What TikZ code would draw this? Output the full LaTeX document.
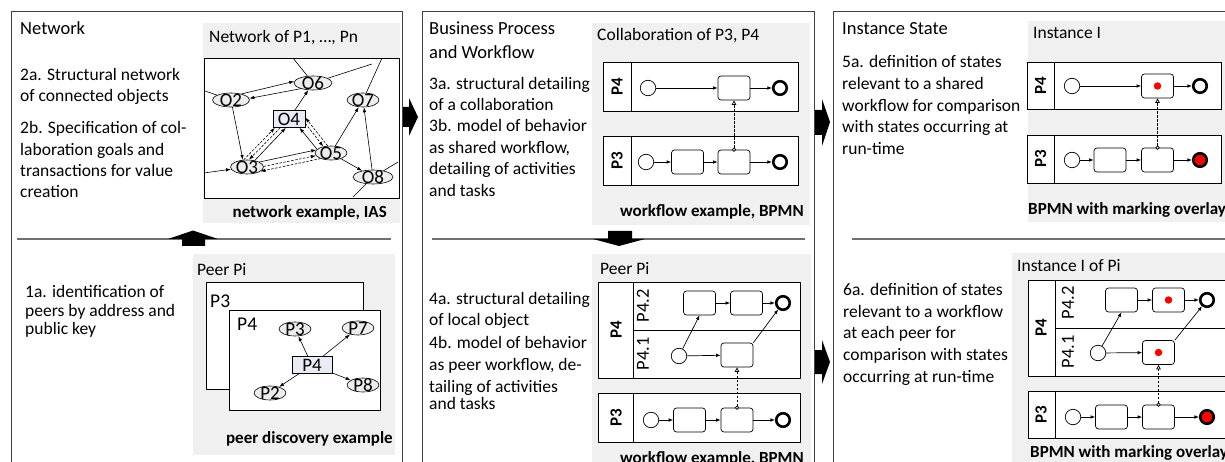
\documentclass[tikz,border=0pt]{standalone}
\usepackage{fontspec}
\setmainfont{Carlito}
\usetikzlibrary{arrows.meta,shapes.geometric}
\definecolor{gbg}{HTML}{F0F0F0}
\definecolor{objfill}{HTML}{EDEDED}
\definecolor{rectfill}{HTML}{E9ECF4}
\definecolor{edgec}{HTML}{404040}
\definecolor{sepc}{HTML}{707070}
\definecolor{markred}{HTML}{FF0000}
\begin{document}
\begin{tikzpicture}[x=1pt,y=-1pt,
  panel/.style={draw=edgec,line width=0.9pt},
  sepline/.style={draw=sepc,line width=1.3pt},
  gbox/.style={fill=gbg},
  body/.style={anchor=base west,inner sep=0,font=\fontsize{17.5}{21}\selectfont},
  ptitle/.style={anchor=base west,inner sep=0,font=\fontsize{18.5}{22}\selectfont},
  gcapr/.style={anchor=base east,inner sep=0,font=\bfseries\fontsize{17}{20}\selectfont},
  gcapl/.style={anchor=base west,inner sep=0,font=\bfseries\fontsize{17}{20}\selectfont},
  big/.style={anchor=base west,inner sep=0,font=\fontsize{19.5}{20}\selectfont},
  obj/.style={ellipse,draw,fill=objfill,line width=0.6pt,minimum width=32,minimum height=14,inner sep=0,
     label={[inner sep=0,font=\fontsize{19}{19}\selectfont]center:#1}},
  objrect/.style={rectangle,draw,fill=rectfill,line width=0.6pt,minimum width=#1,minimum height=17,inner sep=0,
     font=\fontsize{19}{19}\selectfont},
  netarr/.style={-{Latex[length=5pt,width=3.5pt]},line width=0.6pt},
  netline/.style={line width=0.6pt},
  dsh/.style={dash pattern=on 2.5pt off 1.5pt},
  whitebox/.style={draw,fill=white,line width=0.8pt},
  pool/.style={draw,line width=0.9pt},
  plabel/.style={rotate=90,inner sep=0,font=\bfseries\fontsize{17}{17}\selectfont},
  llabel/.style={rotate=90,inner sep=0,font=\fontsize{18.5}{18.5}\selectfont},
  task/.style={draw,rounded corners=3pt,fill=white,line width=0.7pt,minimum width=32,minimum height=24,inner sep=0},
  marked/.style={label={[circle,fill=markred,minimum size=7.5,inner sep=0]center:}},
  startev/.style={circle,draw,fill=white,minimum size=15.5,inner sep=0,line width=0.7pt},
  endev/.style={circle,draw,fill=white,minimum size=13.5,inner sep=0,line width=2.6pt},
  endred/.style={endev,fill=markred},
  seq/.style={-{Latex[length=4.5pt,width=3.5pt]},line width=0.7pt},
  msg/.style={line width=0.7pt,dash pattern=on 2.5pt off 1.5pt,
     {Circle[open,length=4pt,width=4pt,fill=white]}-{Triangle[open,length=4.5pt,width=4.5pt,fill=white]},shorten <=-2pt},
  blockarrow/.style={fill=black}
]
\clip (0,0) rectangle (1225,462);
\fill[white] (0,0) rectangle (1225,462);

% ---------------- panels ----------------
\draw[panel] (11,11) rectangle (402,480);
\draw[panel] (422,11) rectangle (814,480);
\draw[panel] (833,11) rectangle (1240,480);
\draw[sepline] (17,239) -- (391,239);
\draw[sepline] (432,239) -- (805,239);
\draw[sepline] (852,239) -- (1235,239);

% block arrows
\fill[blockarrow] (182,246) -- (182,239) -- (168,239) -- (193,230.5) -- (218,239) -- (205,239) -- (205,246) -- cycle;
\fill[blockarrow] (608,231) -- (632,231) -- (632,239) -- (645,239) -- (619,246) -- (593,239) -- (608,239) -- cycle;
\fill[blockarrow] (403,107) -- (409,107) -- (409,98) -- (418,117) -- (409,136) -- (409,127) -- (403,127) -- cycle;
\fill[blockarrow] (815,110) -- (822,110) -- (822,99) -- (830,122) -- (822,146) -- (822,135) -- (815,135) -- cycle;
\fill[blockarrow] (815,350) -- (822,350) -- (822,340) -- (830,362) -- (822,384) -- (822,374) -- (815,374) -- cycle;

% ---------------- panel 1 text ----------------
\node[ptitle] (n1t) at (20,35) {Network};
\node[body] (n1a) at (20,81) {2a. Structural network};
\node[body] (n1b) at (20,102) {of connected objects};
\node[body] (n1c) at (20,134) {2b. Specification of col-};
\node[body] (n1d) at (20,155.5) {laboration goals and};
\node[body] (n1e) at (20,177) {transactions for value};
\node[body] (n1f) at (20,198) {creation};
\node[body] (n1g) at (25,297) {1a. identification of};
\node[body] (n1h) at (25,316) {peers by address and};
\node[body] (n1i) at (25,334) {public key};

% network example
\fill[gbox] (203,23) rectangle (400,223);
\node[body] (g1t) at (209,43) {Network of P1, …, Pn};
\draw[whitebox] (204,58) rectangle (399,198);
\node[gcapr] (g1c) at (387,218) {network example, IAS};
\begin{scope}
\clip (204,58) rectangle (399,198);
\node[obj=O6,minimum width=38] (o6) at (313,83) {};
\node[obj=O2,minimum width=37] (o2) at (231,100) {};
\node[obj=O7] (o7) at (363,100) {};
\node[objrect=32] (o4) at (289,119) {O4};
\node[obj=O5] (o5) at (331,153) {};
\node[obj=O3,minimum width=33] (o3) at (247,167) {};
\node[obj=O8,minimum width=40] (o8) at (373,177) {};
\coordinate (x1) at (293,58);
\coordinate (x2) at (382,58);
\coordinate (x3) at (372,64);
\coordinate (x4) at (205,91);
\coordinate (x5) at (204,173);
\coordinate (x6) at (398,162);
\coordinate (x7) at (353,197);
\draw[netline] (x1) -- (o6);
\draw[netline] (x2) -- (o7);
\draw[netline] (o6) -- (x3);
\draw[netline] (o2) -- (x4);
\draw[netarr] (x5) -- (o3);
\draw[netline] (o8) -- (x6);
\draw[netline] (o8) -- (x7);
\draw[netarr] (o2.30) -- (o6.175);
\draw[netarr] (o6.205) -- (o2.5);
\draw[netarr] (o2) -- (o3.120);
\draw[netarr] (o4) -- (o6);
\draw[netarr,dsh] (o3.115) -- (o4.212);
\draw[netarr,dsh] (o4.225) -- (o3.75);
\draw[netarr] (o3.40) -- (o4.250);
\draw[netarr] (o3.22) -- (o5.168);
\draw[netarr,dsh] (o3.2) -- (o5.190);
\draw[netarr,dsh] (o5.208) -- (o3.-18);
\draw[netarr,dsh] (o5.115) -- (o4.5);
\draw[netarr,dsh] (o4.-15) -- (o5.140);
\draw[netarr] (o5.165) -- (o4.-40);
\draw[netarr] (o5) -- (o7);
\draw[netarr] (o5) -- (o8);
\draw[netarr] (o8) -- (o7);
\end{scope}

% peer discovery
\fill[gbox] (193,254) rectangle (395,455);
\node[body] (g2t) at (197,275) {Peer Pi};
\draw[whitebox] (206,282) rectangle (363,389);
\node[big] (lp3) at (210,307) {P3};
\draw[whitebox] (229,310) rectangle (380,410);
\node[big] (lp4) at (237,330) {P4};
\node[obj=P3] (q3) at (295,329) {};
\node[obj=P7] (q7) at (358,328) {};
\node[obj=P2] (q2) at (270,393) {};
\node[obj=P8] (q8) at (363,385) {};
\node[objrect=40] (q4) at (312,365) {P4};
\draw[netarr] (q4) -- (q3);
\draw[netarr] (q4) -- (q7);
\draw[netarr] (q4) -- (q2);
\draw[netarr] (q4) -- (q8);
\node[gcapr] (g2c) at (393,443) {peer discovery example};

% ---------------- panel 2 text ----------------
\node[ptitle] (n2t) at (429,35) {Business Process};
\node[ptitle] (n2u) at (429,59) {and Workflow};
\node[body] (n2a) at (429,90) {3a. structural detailing};
\node[body] (n2b) at (429,111) {of a collaboration};
\node[body] (n2c) at (429,132) {3b. model of behavior};
\node[body] (n2d) at (429,153.5) {as shared workflow,};
\node[body] (n2e) at (429,175) {detailing of activities};
\node[body] (n2f) at (429,197) {and tasks};
\node[body] (n2g) at (429,304) {4a. structural detailing};
\node[body] (n2h) at (429,325) {of local object};
\node[body] (n2i) at (429,348) {4b. model of behavior};
\node[body] (n2j) at (429,370) {as peer workflow, de-};
\node[body] (n2k) at (429,392) {tailing of activities};
\node[body] (n2l) at (429,409) {and tasks};

% collaboration
\fill[gbox] (592,23) rectangle (810,225);
\node[body] (g3t) at (597,41) {Collaboration of P3, P4};
\draw[pool,fill=white] (603,62) rectangle (798,111);
\draw[pool] (631,62) -- (631,111);
\node[plabel] (c4l) at (617,86.5) {P4};
\draw[pool,fill=white] (603,136) rectangle (798,185);
\draw[pool] (631,136) -- (631,185);
\node[plabel] (c3l) at (617,160.5) {P3};
\node[startev] (c4s) at (648,88) {};
\node[task] (c4t) at (734,88) {};
\node[endev] (c4e) at (780,88) {};
\draw[seq] (c4s) -- (c4t);
\draw[seq] (c4t) -- (c4e);
\node[startev] (c3s) at (646,162) {};
\node[task] (c3t1) at (687.5,162) {};
\node[task] (c3t2) at (734,162) {};
\node[endev] (c3e) at (780,162) {};
\draw[seq] (c3s) -- (c3t1);
\draw[seq] (c3t1) -- (c3t2);
\draw[seq] (c3t2) -- (c3e);
\draw[msg] (c3t2.north) -- (c4t.south);
\node[gcapr] (g3c) at (804,217) {workflow example, BPMN};

% peer workflow
\fill[gbox] (592,254) rectangle (811,470);
\node[body] (g4t) at (600,274) {Peer Pi};
\draw[pool,fill=white] (598,282) rectangle (800,378);
\draw[pool] (633,282) -- (633,378);
\draw[pool] (633,330) -- (800,330);
\node[plabel] (p4l) at (616,330) {P4};
\node[llabel] (p42l) at (643,306) {P4.2};
\node[llabel] (p41l) at (643,354) {P4.1};
\draw[pool,fill=white] (598,393) rectangle (800,442);
\draw[pool] (633,393) -- (633,442);
\node[plabel] (p3l) at (616,417.5) {P3};
\node[task] (a2t1) at (699.5,303) {};
\node[task] (a2t2) at (746.5,303) {};
\node[endev] (a2e) at (783,303) {};
\node[startev] (a1s) at (679,356) {};
\node[task] (a1t) at (737,355) {};
\draw[seq] (a2t1) -- (a2t2);
\draw[seq] (a2t2) -- (a2e);
\draw[seq] (a1s) -- (a2t1.south);
\draw[seq] (a1s) -- (a1t);
\draw[seq] (a1t.north east) -- (a2e);
\node[startev] (b3s) at (651,420) {};
\node[task] (b3t1) at (689.5,420) {};
\node[task] (b3t2) at (737,420) {};
\node[endev] (b3e) at (783,420) {};
\draw[seq] (b3s) -- (b3t1);
\draw[seq] (b3t1) -- (b3t2);
\draw[seq] (b3t2) -- (b3e);
\draw[msg] (b3t2.north) -- (a1t.south);
\node[gcapr] (g4c) at (804,463) {workflow example, BPMN};

% ---------------- panel 3 text ----------------
\node[ptitle] (n3t) at (842,35) {Instance State};
\node[body] (n3a) at (842,68) {5a. definition of states};
\node[body] (n3b) at (842,90) {relevant to a shared};
\node[body] (n3c) at (842,112) {workflow for comparison};
\node[body] (n3d) at (842,133) {with states occurring at};
\node[body] (n3e) at (842,155) {run-time};
\node[body] (n3f) at (843,295) {6a. definition of states};
\node[body] (n3g) at (843,317) {relevant to a workflow};
\node[body] (n3h) at (843,338) {at each peer for};
\node[body] (n3i) at (843,360) {comparison with states};
\node[body] (n3j) at (843,382) {occurring at run-time};

% instance I
\fill[gbox] (1028,21) rectangle (1240,222);
\node[body] (g5t) at (1033,39) {Instance I};
\draw[pool,fill=white] (1027,62) rectangle (1221,109);
\draw[pool] (1054,62) -- (1054,109);
\node[plabel] (i4l) at (1040.5,85.5) {P4};
\draw[pool,fill=white] (1027,135) rectangle (1221,183);
\draw[pool] (1054,135) -- (1054,183);
\node[plabel] (i3l) at (1040.5,159) {P3};
\node[startev] (i4s) at (1072,86) {};
\node[task,marked] (i4t) at (1157.5,86) {};
\node[endev] (i4e) at (1200,86) {};
\draw[seq] (i4s) -- (i4t);
\draw[seq] (i4t) -- (i4e);
\node[startev] (i3s) at (1072,160) {};
\node[task] (i3t1) at (1110,160) {};
\node[task] (i3t2) at (1157.5,160) {};
\node[endred] (i3e) at (1200,160) {};
\draw[seq] (i3s) -- (i3t1);
\draw[seq] (i3t1) -- (i3t2);
\draw[seq] (i3t2) -- (i3e);
\draw[msg] (i3t2.north) -- (i4t.south);
\node[gcapl] (g5c) at (1028,215) {BPMN with marking overlay};

% instance I of Pi
\fill[gbox] (1012,253) rectangle (1240,470);
\node[body] (g6t) at (1017,271) {Instance I of Pi};
\draw[pool,fill=white] (1028,280) rectangle (1240,376);
\draw[pool] (1055,280) -- (1055,376);
\draw[pool] (1055,328) -- (1240,328);
\node[plabel] (j4l) at (1041,328) {P4};
\node[llabel] (j42l) at (1068,303) {P4.2};
\node[llabel] (j41l) at (1068,352) {P4.1};
\draw[pool,fill=white] (1028,391) rectangle (1240,438);
\draw[pool] (1055,391) -- (1055,438);
\node[plabel] (j3l) at (1041,414.5) {P3};
\node[task] (k2t1) at (1121.5,300) {};
\node[task,marked] (k2t2) at (1168.5,300) {};
\node[endev] (k2e) at (1207,300) {};
\node[startev] (k1s) at (1098,353) {};
\node[task,marked] (k1t) at (1158.5,352.5) {};
\draw[seq] (k2t1) -- (k2t2);
\draw[seq] (k2t2) -- (k2e);
\draw[seq] (k1s) -- (k2t1.south);
\draw[seq] (k1s) -- (k1t);
\draw[seq] (k1t.north east) -- (k2e);
\node[startev] (m3s) at (1073,417) {};
\node[task] (m3t1) at (1111.5,417) {};
\node[task] (m3t2) at (1158.5,417) {};
\node[endred] (m3e) at (1207,417) {};
\draw[seq] (m3s) -- (m3t1);
\draw[seq] (m3t1) -- (m3t2);
\draw[seq] (m3t2) -- (m3e);
\draw[msg] (m3t2.north) -- (k1t.south);
\node[gcapl] (g6c) at (1030,457) {BPMN with marking overlay};
\end{tikzpicture}
\end{document}
